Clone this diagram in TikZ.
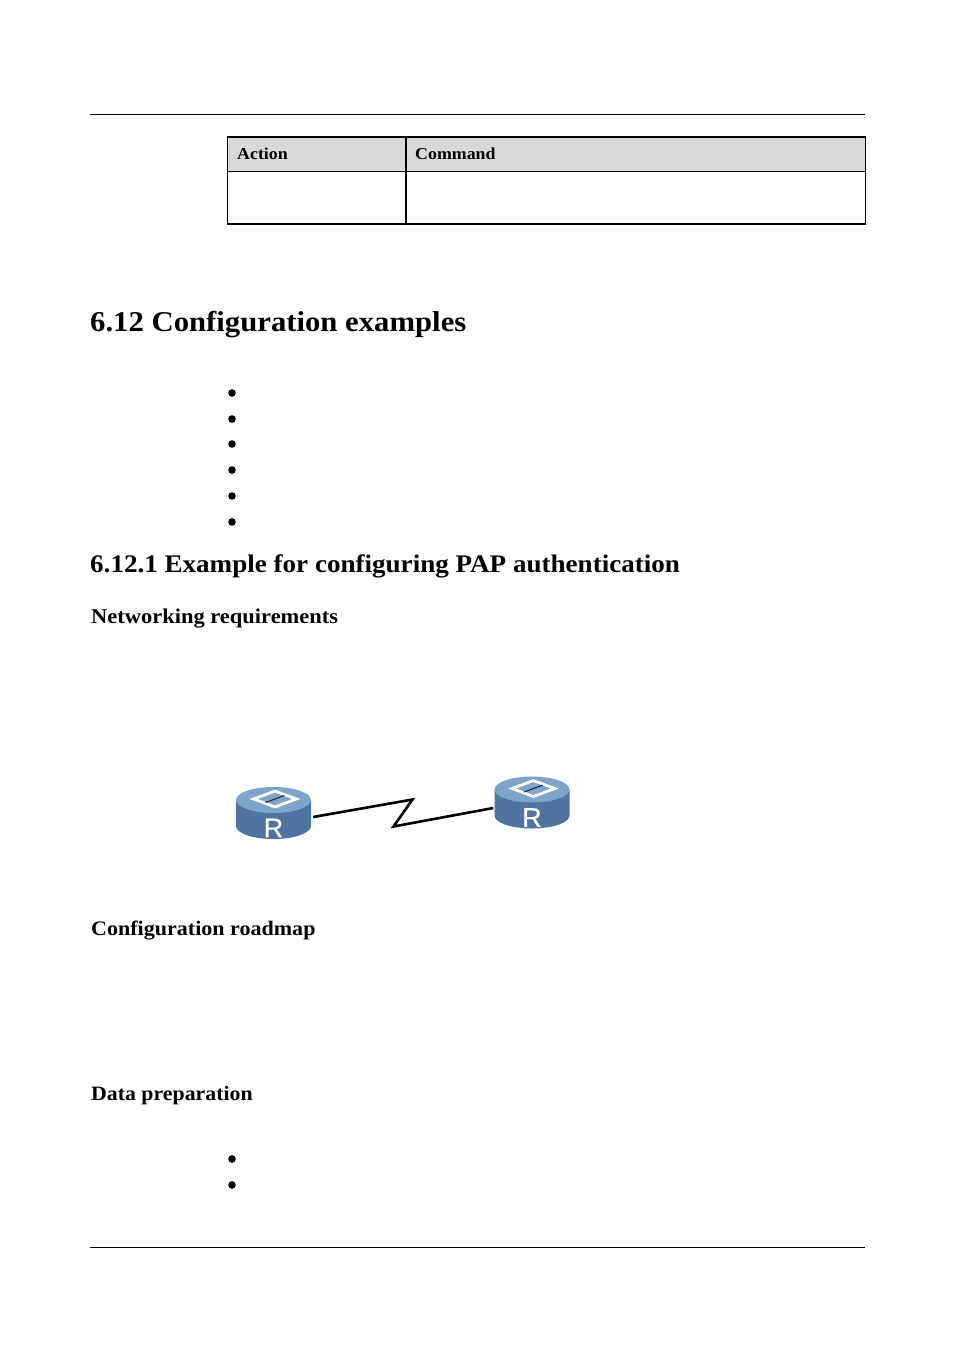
\documentclass[tikz,border=0pt]{standalone}
\usepackage{fontspec}
\usepackage{xcolor}
\setmainfont[FakeStretch=1.07]{Liberation Serif}
\newfontfamily\routerfont[FakeBold=0.5]{Liberation Sans}
\usetikzlibrary{shapes.geometric, calc}
\definecolor{routertop}{HTML}{7DA5CA}
\definecolor{routerbody}{HTML}{4F74A1}
\definecolor{headgrey}{HTML}{D9D9D9}
\tikzset{
    heading/.style={anchor=base west, inner sep=0, font=\bfseries\fontsize{#1}{#1}\selectfont},
    headcell/.style={anchor=west, inner sep=0, font=\bfseries\fontsize{16.7}{17}\selectfont},
    listdot/.style={circle, fill=black, inner sep=0, minimum size=7.6pt},
    routerbox/.style={minimum width=75pt, minimum height=52pt, inner sep=0},
    routerletter/.style={inner sep=0, text=white, font=\routerfont\fontsize{27}{27}\selectfont},
}
\begin{document}
\begin{tikzpicture}[x=1pt, y=-1pt]
    \useasboundingbox (0,0) rectangle (954,1350);
    \fill[white] (0,0) rectangle (954,1350);
    % page rules
    \draw[line width=1pt] (90,114.5) -- (865,114.5);
    \draw[line width=1pt] (90,1247.5) -- (865,1247.5);
    % table
    \fill[headgrey] (228,137) rectangle (866,172);
    \draw[line width=2pt] (227,137) -- (866,137);
    \draw[line width=1pt] (228,171.5) -- (866,171.5);
    \draw[line width=2pt] (227,224) -- (866,224);
    \draw[line width=1pt] (227.5,137) -- (227.5,224);
    \draw[line width=1pt] (865.5,137) -- (865.5,224);
    \draw[line width=1.5pt] (406,137) -- (406,224);
    \node[headcell] (action) at (237,153.5) {Action};
    \node[headcell] (command) at (415,153.5) {Command};
    % headings
    \node[heading=28.7] (sectitle) at (90,331) {6.12 Configuration examples};
    \node[heading=25.3] (subtitle) at (90,572) {6.12.1 Example for configuring PAP authentication};
    \node[heading=21] (netreq) at (91,623) {Networking requirements};
    \node[heading=20.6] (roadmap) at (91,935) {Configuration roadmap};
    \node[heading=20.4] (dataprep) at (91,1100) {Data preparation};
    % bullets
    \foreach \y in {393, 419, 444, 470, 496, 522, 1159, 1185} {
        \node[listdot] (dot\y) at (232,\y) {};
    }
    % routers
    \foreach \name/\x/\y in {routerA/273.5/813, routerB/532/802.5} {
        \fill[routerbody] (\x-37.5,\y-13) -- (\x-37.5,\y+13) arc(180:0:37.5 and 13) -- (\x+37.5,\y-13) -- cycle;
        \fill[routertop] (\x,\y-13) ellipse (37.5 and 13);
        \node[diamond, draw=white, line width=2.8pt, fill=routertop, minimum width=44pt, minimum height=17pt, inner sep=0, aspect=2.6] (\name top) at (\x+1.5,\y-14) {};
        \draw[black!70!routerbody, line width=1pt] (\x-8,\y-10.5) -- (\x+11,\y-17.5);
        \node[routerbox] (\name) at (\x,\y) {};
        \node[routerletter] (\name letter) at (\x,\y+15) {R};
    }
    % serial link
    \coordinate (zigA) at (412.5,799.5);
    \coordinate (zigB) at (393.5,826.5);
    \draw[line width=2.6pt, line join=miter] ($(routerA.east)+(2,4)$) -- (zigA) -- (zigB) -- ($(routerB.west)+(-1,5.5)$);
\end{tikzpicture}
\end{document}
